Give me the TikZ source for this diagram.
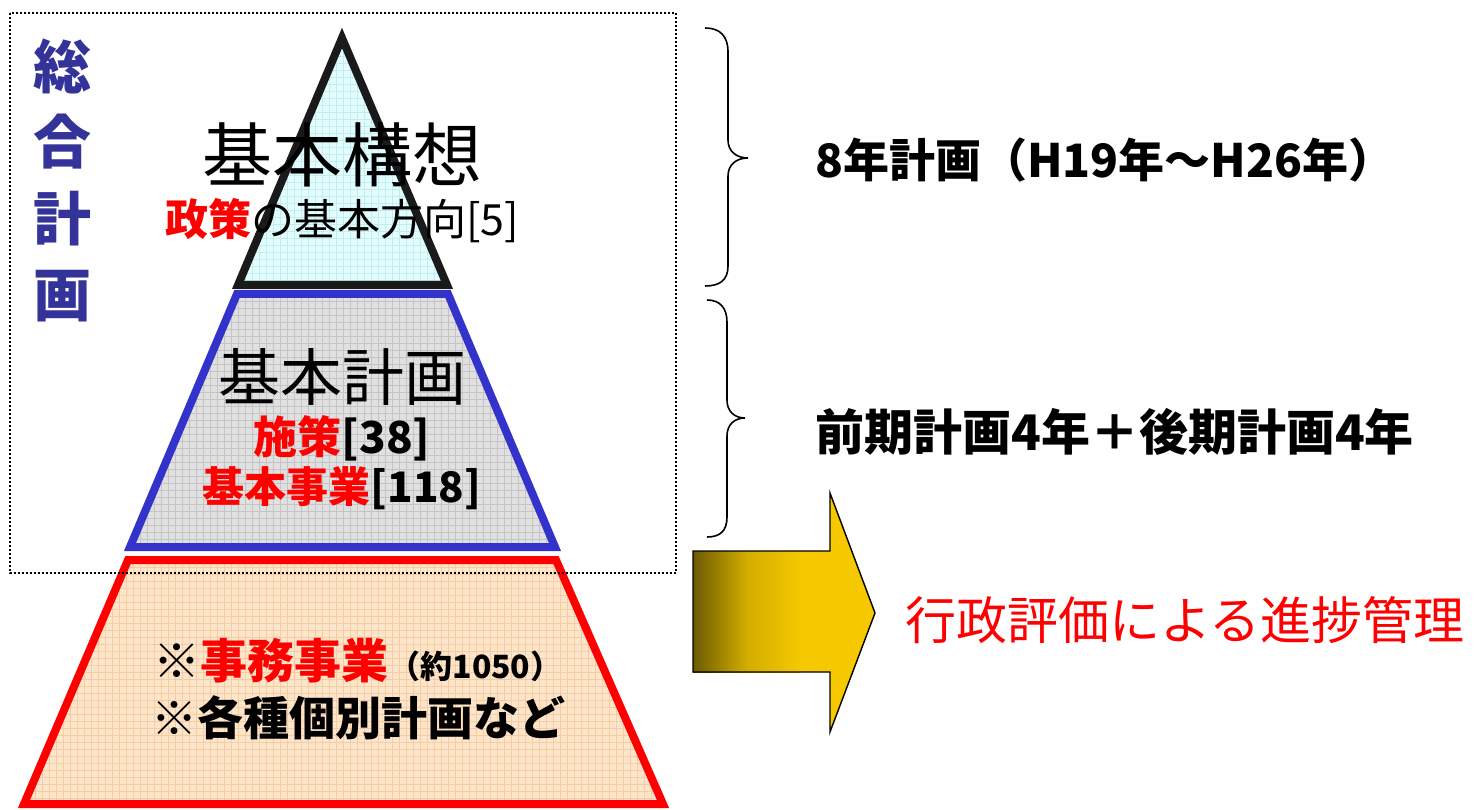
\documentclass[tikz,border=0pt]{standalone}
\usepackage{fontspec}
\setmainfont{Noto Sans CJK JP}
\usetikzlibrary{calc}
\definecolor{tribord}{HTML}{1A1A1A}
\definecolor{trifill}{HTML}{E2FDFD}
\definecolor{trigrid}{HTML}{C6ECEE}
\definecolor{midbord}{HTML}{3333CC}
\definecolor{midfill}{HTML}{E0E0E0}
\definecolor{midgrid}{HTML}{C4C4C4}
\definecolor{lowbord}{HTML}{FF0000}
\definecolor{lowfill}{HTML}{FDE5CC}
\definecolor{lowgrid}{HTML}{F6CDA0}
\definecolor{navy}{HTML}{333399}
\definecolor{olive}{HTML}{6B5A00}
\definecolor{gold}{HTML}{F5C800}
\definecolor{redtxt}{HTML}{FF0000}
\newcommand{\fs}[1]{\fontsize{#1}{#1}\selectfont}
\begin{document}
\begin{tikzpicture}[x=1pt,y=-1pt,
  lbl/.style={inner sep=0pt, text=black},
  layer/.style={line width=8pt, line join=miter},
  bracepath/.style={line width=1.6pt, black},
  gridline/.style={line width=0.6pt}]
\useasboundingbox (0,0) rectangle (1476,810);
% bottom layer
\coordinate (l1) at (24,804); \coordinate (l2) at (663,804);
\coordinate (l3) at (556,560); \coordinate (l4) at (128,560);
\fill[lowfill] (l1) -- (l2) -- (l3) -- (l4) -- cycle;
\begin{scope}
\clip (l1) -- (l2) -- (l3) -- (l4) -- cycle;
\draw[lowgrid, gridline, step=7pt] (0,550) grid (680,810);
\end{scope}
\draw[layer, lowbord] (l1) -- (l2) -- (l3) -- (l4) -- cycle;
% middle layer
\coordinate (m1) at (130,547); \coordinate (m2) at (555,547);
\coordinate (m3) at (448,294); \coordinate (m4) at (237,294);
\fill[midfill] (m1) -- (m2) -- (m3) -- (m4) -- cycle;
\begin{scope}
\clip (m1) -- (m2) -- (m3) -- (m4) -- cycle;
\draw[midgrid, gridline, step=7pt] (100,280) grid (580,560);
\end{scope}
\draw[layer, midbord] (m1) -- (m2) -- (m3) -- (m4) -- cycle;
% top triangle
\coordinate (t1) at (238,285); \coordinate (t2) at (447,285);
\coordinate (t3) at (342,38);
\fill[trifill] (t1) -- (t2) -- (t3) -- cycle;
\begin{scope}
\clip (t1) -- (t2) -- (t3) -- cycle;
\draw[trigrid, gridline, step=7pt] (220,20) grid (470,300);
\end{scope}
\draw[layer, tribord] (t1) -- (t2) -- (t3) -- cycle;
% dotted frame
\draw[line width=2pt, dash pattern=on 2pt off 2pt] (10,13) rectangle (676,573);
% vertical title
\node[lbl, text=navy, font=\fs{58}\bfseries] (s1) at (62,66) {総};
\node[lbl, text=navy, font=\fs{58}\bfseries] (s2) at (62,142) {合};
\node[lbl, text=navy, font=\fs{58}\bfseries] (s3) at (62,219) {計};
\node[lbl, text=navy, font=\fs{58}\bfseries] (s4) at (62,296) {画};
% texts in pyramid
\node[lbl, font=\fs{70}] (kk) at (342,155) {基本構想};
\node[lbl, font=\fs{43}] (kk2) at (342,221) {\textcolor{redtxt}{\bfseries 政策}の基本方向[5]};
\node[lbl, font=\fs{62}] (kp) at (342,377) {基本計画};
\node[lbl, font=\fs{44}\bfseries] (kp2) at (342,438) {\textcolor{redtxt}{施策}[38]};
\node[lbl, font=\fs{42}\bfseries] (kp3) at (342,488) {\textcolor{redtxt}{基本事業}[118]};
\node[lbl, font=\fs{47}\bfseries] (jm) at (358,661) {※\textcolor{redtxt}{事務事業}{\fs{32}（約1050）}};
\node[lbl, font=\fs{46}\bfseries] (jm2) at (358,718) {※各種個別計画など};
% braces
\coordinate (b1a) at (705,28); \coordinate (b1t) at (748,158); \coordinate (b1b) at (705,286);
\draw[bracepath] (b1a) .. controls (720,28) and (728,36) .. (728,52) -- (728,140)
  .. controls (728,151) and (736,158) .. (b1t)
  .. controls (736,158) and (728,165) .. (728,176) -- (728,266)
  .. controls (728,280) and (720,286) .. (b1b);
\coordinate (b2a) at (707,300); \coordinate (b2t) at (745,418); \coordinate (b2b) at (707,537);
\draw[bracepath] (b2a) .. controls (720,300) and (727,308) .. (727,322) -- (727,400)
  .. controls (727,411) and (734,418) .. (b2t)
  .. controls (734,418) and (727,425) .. (727,436) -- (727,517)
  .. controls (727,531) and (720,537) .. (b2b);
\node[lbl, font=\fs{46}\bfseries, anchor=west] (p8) at (815,160) {8年計画（H19年～H26年）};
\node[lbl, font=\fs{49}\bfseries, anchor=west] (p44) at (815,432) {前期計画4年＋後期計画4年};
% arrow
\coordinate (a1) at (693,551); \coordinate (a2) at (830,551); \coordinate (a3) at (830,493);
\coordinate (a4) at (875,613); \coordinate (a5) at (830,732); \coordinate (a6) at (830,672);
\coordinate (a7) at (693,672);
\shade[left color=olive, right color=gold, middle color=gold!75!olive] (693,551) rectangle (800,672);
\fill[gold] (799,551) -- (a2) -- (a3) -- (a4) -- (a5) -- (a6) -- (799,672) -- cycle;
\draw[line width=1.4pt, line join=miter] (a1) -- (a2) -- (a3) -- (a4) -- (a5) -- (a6) -- (a7) -- cycle;
\node[lbl, font=\fs{51}, text=redtxt, anchor=west] (gy) at (905,620) {行政評価による進捗管理};
\end{tikzpicture}
\end{document}
